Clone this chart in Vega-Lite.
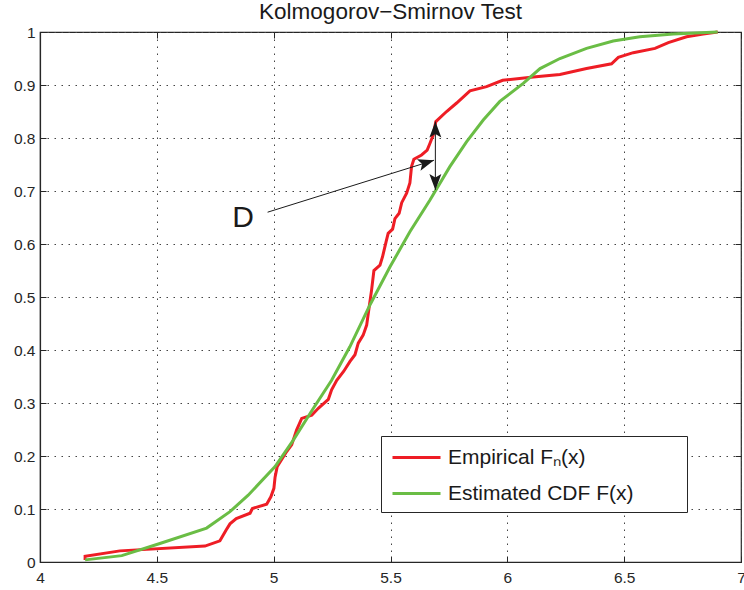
{
  "$schema": "https://vega.github.io/schema/vega-lite/v6.json",
  "width": 701,
  "height": 530,
  "autosize": "none",
  "padding": {"left": 40, "top": 32, "right": 3, "bottom": 28},
  "background": "white",
  "title": {"text": "Kolmogorov−Smirnov Test", "fontSize": 22.5, "font": "Liberation Sans", "fontWeight": "normal", "color": "#1a1a1a", "offset": 2},
  "config": {
    "view": {"stroke": "#262626", "strokeWidth": 1.2},
    "axis": {
      "labelFont": "Liberation Sans", "labelFontSize": 15.5, "labelColor": "#262626",
      "domainColor": "#262626", "domainWidth": 1.2, "tickColor": "#262626", "tickSize": -6,
      "gridColor": "#444444", "gridDash": [1.5, 5.5], "gridWidth": 1, "title": null
    },
    "legend": {
      "orient": "none", "legendX": 341, "legendY": 404,
      "strokeColor": "#262626", "fillColor": "white", "padding": 8,
      "symbolType": "M-2,0H2", "symbolSize": 576, "symbolStrokeWidth": 3, "symbolOffset": 14,
      "labelFont": "Liberation Sans", "labelFontSize": 21, "labelColor": "#1a1a1a",
      "labelOffset": 18, "rowPadding": 12, "title": null, "labelLimit": 400
    }
  },
  "datasets": {
    "cdf": [
      {"series": "emp", "x": 4.193, "F": 0.004},
      {"series": "emp", "x": 4.193, "F": 0.011},
      {"series": "emp", "x": 4.342, "F": 0.021},
      {"series": "emp", "x": 4.706, "F": 0.030},
      {"series": "emp", "x": 4.77, "F": 0.040},
      {"series": "emp", "x": 4.796, "F": 0.060},
      {"series": "emp", "x": 4.813, "F": 0.072},
      {"series": "emp", "x": 4.84, "F": 0.082},
      {"series": "emp", "x": 4.899, "F": 0.092},
      {"series": "emp", "x": 4.909, "F": 0.101},
      {"series": "emp", "x": 4.97, "F": 0.109},
      {"series": "emp", "x": 4.988, "F": 0.123},
      {"series": "emp", "x": 5.001, "F": 0.139},
      {"series": "emp", "x": 5.006, "F": 0.160},
      {"series": "emp", "x": 5.015, "F": 0.180},
      {"series": "emp", "x": 5.055, "F": 0.208},
      {"series": "emp", "x": 5.077, "F": 0.221},
      {"series": "emp", "x": 5.098, "F": 0.249},
      {"series": "emp", "x": 5.12, "F": 0.271},
      {"series": "emp", "x": 5.163, "F": 0.277},
      {"series": "emp", "x": 5.191, "F": 0.290},
      {"series": "emp", "x": 5.234, "F": 0.307},
      {"series": "emp", "x": 5.248, "F": 0.325},
      {"series": "emp", "x": 5.27, "F": 0.343},
      {"series": "emp", "x": 5.30, "F": 0.360},
      {"series": "emp", "x": 5.326, "F": 0.378},
      {"series": "emp", "x": 5.348, "F": 0.391},
      {"series": "emp", "x": 5.362, "F": 0.413},
      {"series": "emp", "x": 5.383, "F": 0.428},
      {"series": "emp", "x": 5.398, "F": 0.447},
      {"series": "emp", "x": 5.409, "F": 0.482},
      {"series": "emp", "x": 5.419, "F": 0.513},
      {"series": "emp", "x": 5.429, "F": 0.550},
      {"series": "emp", "x": 5.455, "F": 0.560},
      {"series": "emp", "x": 5.466, "F": 0.576},
      {"series": "emp", "x": 5.481, "F": 0.604},
      {"series": "emp", "x": 5.49, "F": 0.620},
      {"series": "emp", "x": 5.509, "F": 0.628},
      {"series": "emp", "x": 5.519, "F": 0.648},
      {"series": "emp", "x": 5.537, "F": 0.658},
      {"series": "emp", "x": 5.548, "F": 0.678},
      {"series": "emp", "x": 5.569, "F": 0.696},
      {"series": "emp", "x": 5.583, "F": 0.715},
      {"series": "emp", "x": 5.59, "F": 0.746},
      {"series": "emp", "x": 5.60, "F": 0.760},
      {"series": "emp", "x": 5.633, "F": 0.768},
      {"series": "emp", "x": 5.657, "F": 0.777},
      {"series": "emp", "x": 5.669, "F": 0.790},
      {"series": "emp", "x": 5.683, "F": 0.806},
      {"series": "emp", "x": 5.694, "F": 0.831},
      {"series": "emp", "x": 5.74, "F": 0.850},
      {"series": "emp", "x": 5.783, "F": 0.866},
      {"series": "emp", "x": 5.84, "F": 0.889},
      {"series": "emp", "x": 5.911, "F": 0.897},
      {"series": "emp", "x": 5.98, "F": 0.909},
      {"series": "emp", "x": 6.111, "F": 0.915},
      {"series": "emp", "x": 6.225, "F": 0.920},
      {"series": "emp", "x": 6.339, "F": 0.931},
      {"series": "emp", "x": 6.446, "F": 0.940},
      {"series": "emp", "x": 6.475, "F": 0.952},
      {"series": "emp", "x": 6.539, "F": 0.961},
      {"series": "emp", "x": 6.632, "F": 0.969},
      {"series": "emp", "x": 6.689, "F": 0.980},
      {"series": "emp", "x": 6.767, "F": 0.991},
      {"series": "emp", "x": 6.838, "F": 0.996},
      {"series": "emp", "x": 6.90, "F": 1.0},
      {"series": "est", "x": 4.193, "F": 0.004},
      {"series": "est", "x": 4.35, "F": 0.012},
      {"series": "est", "x": 4.513, "F": 0.035},
      {"series": "est", "x": 4.713, "F": 0.064},
      {"series": "est", "x": 4.813, "F": 0.095},
      {"series": "est", "x": 4.891, "F": 0.126},
      {"series": "est", "x": 5.006, "F": 0.180},
      {"series": "est", "x": 5.084, "F": 0.230},
      {"series": "est", "x": 5.17, "F": 0.290},
      {"series": "est", "x": 5.248, "F": 0.343},
      {"series": "est", "x": 5.326, "F": 0.406},
      {"series": "est", "x": 5.412, "F": 0.485},
      {"series": "est", "x": 5.498, "F": 0.557},
      {"series": "est", "x": 5.583, "F": 0.623},
      {"series": "est", "x": 5.669, "F": 0.683},
      {"series": "est", "x": 5.754, "F": 0.746},
      {"series": "est", "x": 5.826, "F": 0.793},
      {"series": "est", "x": 5.897, "F": 0.834},
      {"series": "est", "x": 5.968, "F": 0.869},
      {"series": "est", "x": 6.068, "F": 0.903},
      {"series": "est", "x": 6.14, "F": 0.931},
      {"series": "est", "x": 6.225, "F": 0.950},
      {"series": "est", "x": 6.339, "F": 0.969},
      {"series": "est", "x": 6.453, "F": 0.983},
      {"series": "est", "x": 6.567, "F": 0.991},
      {"series": "est", "x": 6.71, "F": 0.996},
      {"series": "est", "x": 6.9, "F": 1.0}
    ]
  },
  "resolve": {"axis": {"x": "independent", "y": "independent"}},
  "layer": [
    {
      "data": {"name": "cdf"},
      "mark": {"type": "line", "strokeWidth": 3, "interpolate": "linear"},
      "encoding": {
        "x": {"field": "x", "type": "quantitative", "scale": {"domain": [4, 7], "nice": false, "zero": false},
              "axis": {"orient": "bottom", "values": [4, 4.5, 5, 5.5, 6, 6.5, 7], "format": "~g", "labelPadding": 14, "grid": true, "labelFlush": false}},
        "y": {"field": "F", "type": "quantitative", "scale": {"domain": [0, 1], "nice": false},
              "axis": {"orient": "left", "values": [0, 0.1, 0.2, 0.3, 0.4, 0.5, 0.6, 0.7, 0.8, 0.9, 1], "format": "~g", "labelPadding": 11, "grid": true, "labelFlush": false}},
        "color": {"field": "series", "type": "nominal",
                  "scale": {"domain": ["emp", "est"], "range": ["#ee1d25", "#6abd45"]},
                  "legend": {"labelExpr": "datum.value == 'emp' ? 'Empirical Fₙ(x)' : 'Estimated CDF F(x)\u2800\u2800\u2800'"}}
      }
    },
    {
      "data": {"values": [{"x": 4.974, "y": 0.66, "x2": 5.686, "y2": 0.758}]},
      "mark": {"type": "rule", "color": "#1a1a1a", "strokeWidth": 1},
      "encoding": {
        "x": {"field": "x", "type": "quantitative", "axis": {"orient": "top", "values": [4, 4.5, 5, 5.5, 6, 6.5, 7], "labels": false, "grid": false, "domain": false}},
        "y": {"field": "y", "type": "quantitative", "axis": {"orient": "right", "values": [0, 0.1, 0.2, 0.3, 0.4, 0.5, 0.6, 0.7, 0.8, 0.9, 1], "labels": false, "grid": false, "domain": false}},
        "x2": {"field": "x2"},
        "y2": {"field": "y2"}
      }
    },
    {
      "data": {"values": [{"x": 5.692, "y": 0.702, "y2": 0.831}]},
      "mark": {"type": "rule", "color": "#1a1a1a", "strokeWidth": 1},
      "encoding": {
        "x": {"field": "x", "type": "quantitative", "axis": null},
        "y": {"field": "y", "type": "quantitative", "axis": null},
        "y2": {"field": "y2"}
      }
    },
    {
      "data": {"values": [{"x": 5.692, "y": 0.831}]},
      "mark": {"type": "point", "filled": true, "color": "#1a1a1a", "opacity": 1, "size": 256, "shape": "M0,-1L0.75,1L0,0.55L-0.75,1Z", "yOffset": 8},
      "encoding": {
        "x": {"field": "x", "type": "quantitative", "axis": null},
        "y": {"field": "y", "type": "quantitative", "axis": null}
      }
    },
    {
      "data": {"values": [{"x": 5.692, "y": 0.702}]},
      "mark": {"type": "point", "filled": true, "color": "#1a1a1a", "opacity": 1, "size": 256, "shape": "M0,1L0.75,-1L0,-0.55L-0.75,-1Z", "yOffset": -8},
      "encoding": {
        "x": {"field": "x", "type": "quantitative", "axis": null},
        "y": {"field": "y", "type": "quantitative", "axis": null}
      }
    },
    {
      "data": {"values": [{"x": 5.686, "y": 0.758}]},
      "mark": {"type": "point", "filled": true, "color": "#1a1a1a", "opacity": 1, "size": 256, "shape": "M1,0L-1,-0.75L-0.55,0L-1,0.75Z", "angle": -17.5, "xOffset": -7.6, "yOffset": 2.4},
      "encoding": {
        "x": {"field": "x", "type": "quantitative", "axis": null},
        "y": {"field": "y", "type": "quantitative", "axis": null}
      }
    },
    {
      "data": {"values": [{"x": 4.869, "y": 0.632, "label": "D"}]},
      "mark": {"type": "text", "font": "Liberation Sans", "fontSize": 30, "color": "#1a1a1a", "align": "center", "baseline": "alphabetic"},
      "encoding": {
        "x": {"field": "x", "type": "quantitative", "axis": null},
        "y": {"field": "y", "type": "quantitative", "axis": null},
        "text": {"field": "label"}
      }
    }
  ]
}
